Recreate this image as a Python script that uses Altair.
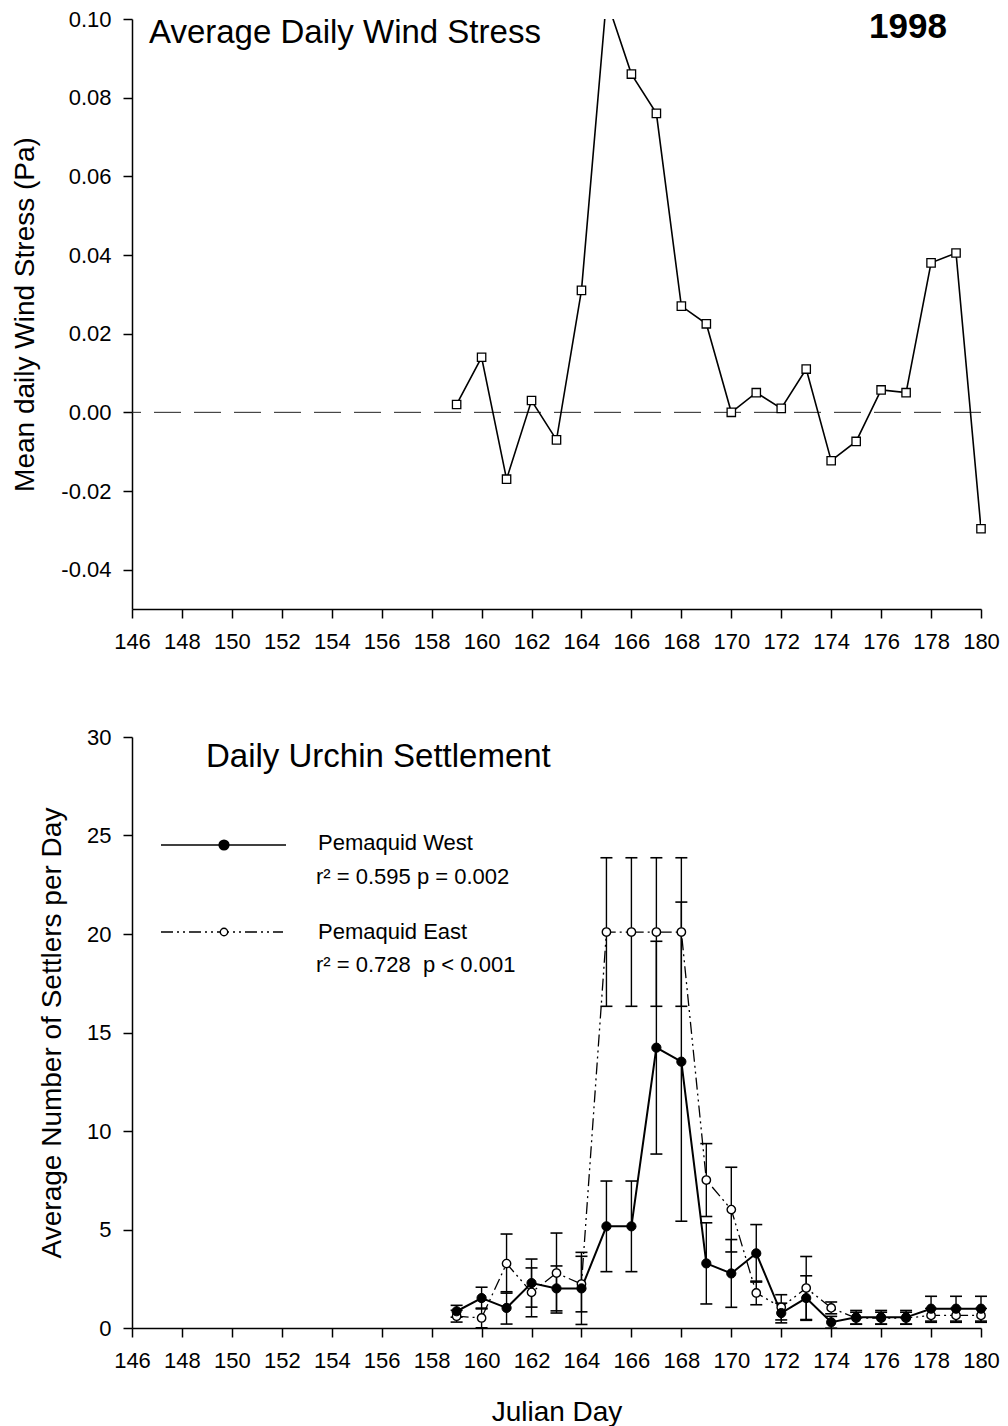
import altair as alt
import pandas as pd

FONT = "Liberation Sans"

# ---------------- data ----------------
x_ticks = [146, 148, 150, 152, 154, 156, 158, 160, 162, 164, 166, 168, 170, 172, 174, 176, 178, 180]

wind_days = [159, 160, 161, 162, 163, 164, 165, 166, 167, 168, 169, 170,
             171, 172, 173, 174, 175, 176, 177, 178, 179, 180]
wind_stress = [0.002, 0.014, -0.017, 0.003, -0.007, 0.031, 0.105, 0.086, 0.076, 0.027, 0.0225, 0.000,
               0.005, 0.001, 0.011, -0.0123, -0.0074, 0.0057, 0.005, 0.038, 0.0405, -0.0296]
wind_y_ticks = [-0.04, -0.02, 0.00, 0.02, 0.04, 0.06, 0.08, 0.10]

settle_days = [159, 160, 161, 162, 163, 164, 165, 166, 167, 168, 169, 170,
               171, 172, 173, 174, 175, 176, 177, 178, 179, 180]
west_mean = [0.85, 1.52, 1.02, 2.28, 2.01, 2.01, 5.16, 5.16, 14.23, 13.52, 3.28, 2.77,
             3.79, 0.76, 1.52, 0.29, 0.54, 0.54, 0.54, 0.98, 0.98, 0.98]
west_se = [0.3, 0.55, 0.82, 1.22, 1.14, 1.83, 2.3, 2.3, 5.4, 8.1, 2.06, 1.72,
           1.46, 0.5, 1.13, 0.3, 0.35, 0.35, 0.35, 0.63, 0.63, 0.63]
east_mean = [0.6, 0.51, 3.27, 1.81, 2.79, 2.23, 20.1, 20.1, 20.1, 20.1, 7.51, 6.01,
             1.78, 1.05, 2.03, 1.02, 0.5, 0.5, 0.5, 0.64, 0.64, 0.64]
east_se = [0.3, 0.5, 1.5, 1.24, 2.03, 1.41, 3.77, 3.77, 3.77, 3.77, 1.85, 2.15,
           0.6, 0.64, 1.6, 0.3, 0.3, 0.3, 0.3, 0.35, 0.35, 0.35]
settle_y_ticks = [0, 5, 10, 15, 20, 25, 30]

top_title = "Average Daily Wind Stress"
year_label = "1998"
bottom_title = "Daily Urchin Settlement"
legend_names = ["Pemaquid West", "Pemaquid East"]
legend_stats = ["r\u00b2 = 0.595 p = 0.002", "r\u00b2 = 0.728\u00a0 p < 0.001"]

# ---------------- frames ----------------
wind_df = pd.DataFrame({"day": wind_days, "stress": wind_stress})
zero_df = pd.DataFrame({"z": [0.0]})

west_df = pd.DataFrame({
    "day": settle_days, "mean": west_mean,
    "lo": [m - s for m, s in zip(west_mean, west_se)],
    "hi": [m + s for m, s in zip(west_mean, west_se)],
})
east_df = pd.DataFrame({
    "day": settle_days, "mean": east_mean,
    "lo": [m - s for m, s in zip(east_mean, east_se)],
    "hi": [m + s for m, s in zip(east_mean, east_se)],
})

W = 849
H_TOP = 590
H_BOT = 591

x_scale = alt.Scale(domain=[146, 180], nice=False, zero=False)
x_axis_top = alt.Axis(values=x_ticks, title=None, format="d",
                      labelOverlap=False, labelBound=False, labelFlush=False)
x_axis_bot = alt.Axis(values=x_ticks, title="Julian Day", format="d",
                      labelOverlap=False, labelBound=False, labelFlush=False,
                      titleBaseline="alphabetic", titleY=92, titleX=W / 2)

# ---------------- top panel ----------------
y_top_scale = alt.Scale(domain=[-0.05, 0.10], nice=False, zero=False)
y_top_axis = alt.Axis(values=wind_y_ticks, format=".2f",
                      labelExpr="replace(datum.label, '\u2212', '-')",
                      labelOverlap=False, labelFlush=False,
                      title="Mean daily Wind Stress (Pa)",
                      titleBaseline="alphabetic", titleX=-99, titleY=H_TOP / 2)

zero_line = alt.Chart(zero_df).mark_rule(color="#222", strokeWidth=1, strokeDash=[27, 13]).encode(
    y=alt.Y("z:Q", scale=y_top_scale, axis=y_top_axis)
)
wind_line = alt.Chart(wind_df).mark_line(color="black", strokeWidth=1.6, clip=True).encode(
    x=alt.X("day:Q", scale=x_scale, axis=x_axis_top),
    y=alt.Y("stress:Q", scale=y_top_scale, axis=y_top_axis),
)
wind_pts = alt.Chart(wind_df).transform_filter(
    alt.datum.stress <= 0.10
).mark_point(shape="square", filled=True, fill="white", stroke="black",
             strokeWidth=1.3, size=70, opacity=1).encode(
    x=alt.X("day:Q", scale=x_scale),
    y=alt.Y("stress:Q", scale=y_top_scale),
)
top_t = alt.Chart(pd.DataFrame({"t": [top_title]})).mark_text(
    font=FONT, fontSize=33, align="left", baseline="alphabetic", color="black"
).encode(text="t:N", x=alt.value(17), y=alt.value(24))
year_t = alt.Chart(pd.DataFrame({"t": [year_label]})).mark_text(
    font=FONT, fontSize=35, fontWeight="bold", align="left", baseline="alphabetic", color="black"
).encode(text="t:N", x=alt.value(737), y=alt.value(19))

top = alt.layer(zero_line, wind_line, wind_pts, top_t, year_t).properties(width=W, height=H_TOP)

# ---------------- bottom panel ----------------
y_bot_scale = alt.Scale(domain=[0, 30], nice=False, zero=False)
y_bot_axis = alt.Axis(values=settle_y_ticks, format="d", labelOverlap=False, labelFlush=False,
                      title="Average Number of  Settlers per Day",
                      titleBaseline="alphabetic", titleX=-72, titleY=H_BOT / 2)

xb = alt.X("day:Q", scale=x_scale, axis=x_axis_bot)


def err_layers(df):
    bars = alt.Chart(df).mark_rule(color="black", strokeWidth=1.4).encode(
        x=xb, y=alt.Y("lo:Q", scale=y_bot_scale, axis=y_bot_axis), y2="hi:Q"
    )
    cap_lo = alt.Chart(df).mark_tick(orient="horizontal", color="black", size=12, thickness=1.6, opacity=1).encode(
        x=xb, y=alt.Y("lo:Q", scale=y_bot_scale)
    )
    cap_hi = alt.Chart(df).mark_tick(orient="horizontal", color="black", size=12, thickness=1.6, opacity=1).encode(
        x=xb, y=alt.Y("hi:Q", scale=y_bot_scale)
    )
    return [bars, cap_lo, cap_hi]


east_line = alt.Chart(east_df).mark_line(color="black", strokeWidth=1.3,
                                         strokeDash=[12, 4, 2, 4, 2, 4]).encode(
    x=xb, y=alt.Y("mean:Q", scale=y_bot_scale)
)
east_pts = alt.Chart(east_df).mark_point(shape="circle", filled=True, fill="white", stroke="black",
                                         strokeWidth=1.4, size=70, opacity=1).encode(
    x=xb, y=alt.Y("mean:Q", scale=y_bot_scale)
)
west_line = alt.Chart(west_df).mark_line(color="black", strokeWidth=2).encode(
    x=xb, y=alt.Y("mean:Q", scale=y_bot_scale)
)
west_pts = alt.Chart(west_df).mark_point(shape="circle", filled=True, fill="black", stroke="black",
                                         strokeWidth=1, size=85, opacity=1).encode(
    x=xb, y=alt.Y("mean:Q", scale=y_bot_scale)
)

one = pd.DataFrame({"k": [0]})
leg_west_line = alt.Chart(one).mark_rule(color="black", strokeWidth=1.6).encode(
    x=alt.value(29), x2=alt.value(154), y=alt.value(108))
leg_west_pt = alt.Chart(one).mark_point(shape="circle", filled=True, fill="black", stroke="black",
                                        size=85, opacity=1).encode(x=alt.value(92), y=alt.value(108))
leg_east_line = alt.Chart(one).mark_rule(color="black", strokeWidth=1.3, strokeDash=[12, 4, 2, 4, 2, 4]).encode(
    x=alt.value(29), x2=alt.value(151), y=alt.value(195))
leg_east_pt = alt.Chart(one).mark_point(shape="circle", filled=True, fill="white", stroke="black",
                                        strokeWidth=1.4, size=55, opacity=1).encode(x=alt.value(92), y=alt.value(195))


def leg_text(s, x, y):
    return alt.Chart(pd.DataFrame({"t": [s]})).mark_text(
        font=FONT, fontSize=22, align="left", baseline="alphabetic", color="black"
    ).encode(text="t:N", x=alt.value(x), y=alt.value(y))


bot_t = alt.Chart(pd.DataFrame({"t": [bottom_title]})).mark_text(
    font=FONT, fontSize=33, align="left", baseline="alphabetic", color="black"
).encode(text="t:N", x=alt.value(74), y=alt.value(30))

bottom = alt.layer(
    *err_layers(east_df), *err_layers(west_df),
    east_line, west_line, east_pts, west_pts,
    leg_west_line, leg_west_pt, leg_east_line, leg_east_pt,
    leg_text(legend_names[0], 186, 113), leg_text(legend_stats[0], 184, 147),
    leg_text(legend_names[1], 186, 202), leg_text(legend_stats[1], 184, 235),
    bot_t,
).properties(width=W, height=H_BOT)

chart = alt.vconcat(top, bottom, spacing=128, bounds="flush").properties(
    padding={"left": 3, "top": 0, "right": 0, "bottom": 0}
).configure_view(stroke=None).configure_axis(
    labelFont=FONT, labelFontSize=22, labelColor="black",
    titleFont=FONT, titleFontSize=28, titleFontWeight="normal", titleColor="black",
    domainColor="black", domainWidth=1.5, tickColor="black", tickWidth=1.5, tickSize=9,
    grid=False,
).configure_axisX(labelPadding=13).configure_axisY(labelPadding=12)

chart.save("out.html", embed_options={"renderer": "svg", "actions": False})
